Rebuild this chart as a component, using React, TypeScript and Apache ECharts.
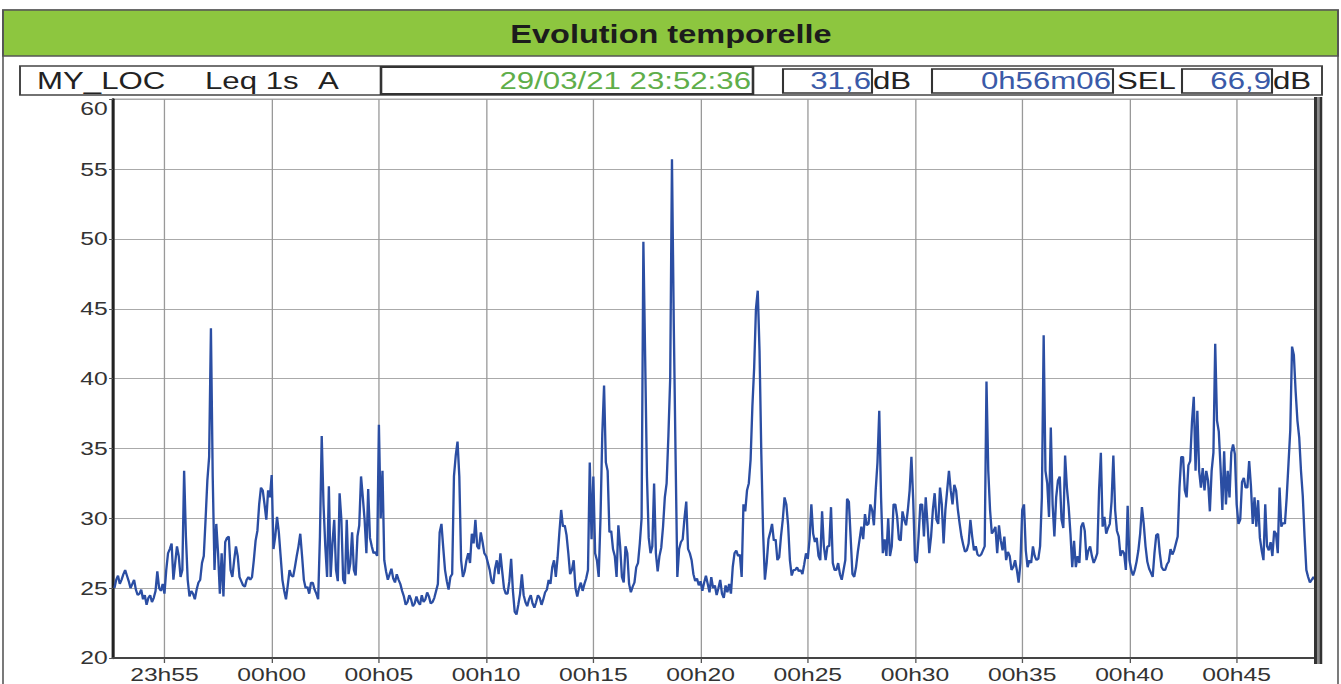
import React, { useEffect, useRef } from "react";
import * as echarts from "echarts";

// The reference is a horizontally stretched picture: draw at 1/S width, stretch with CSS.
const S = 1.3;
const W = 1341 / S;
const H = 684;
const FONT = "Liberation Sans, Arial, sans-serif";

const titleText = "Evolution temporelle";
const locText = "MY_LOC";
const metricText = "Leq 1s";
const weightText = "A";
const startText = "29/03/21 23:52:36";
const leqText = "31,6";
const durationText = "0h56m06";
const selLabel = "SEL";
const selText = "66,9";
const unitText = "dB";

// time axis in seconds relative to 00:00:00 (29/03/21 23:52:36 -> 00:48:42)
const tStart = -444;
const tEnd = 2922;
const step = 10;

// Leq 1s A values (dB). bXXXX: values every 10 s from the block start,
// mXXXX: values 5 s after each of those.
const b2352 = [25.0, 25.9, 25.6, 26.3, 25.5, 25.3, 24.9, 24.6, 24.2, 23.8, 24.5, 24.3, 26.2, 24.8];
const m2352 = [25.6, 25.3, 26.0, 25.9, 25.0, 25.6, 24.5, 24.9, 24.5, 24.3, 24.0, 24.8, 25.0, 25.3];
const b2355 = [24.6, 27.5, 28.2, 26.8, 27.3, 26.3, 28.7, 24.4, 24.6, 24.9, 25.6, 27.3, 32.7, 43.6, 26.3, 27.5, 27.5, 28.3, 28.7, 25.8, 28.0, 25.8, 25.2, 25.6, 25.6, 27.0, 29.1, 32.2, 31.0, 32.0];
const m2355 = [26.3, 27.8, 25.6, 28.0, 25.8, 33.4, 25.6, 24.8, 24.2, 25.4, 26.8, 29.9, 34.4, 33.0, 29.6, 24.6, 24.4, 28.6, 26.3, 27.0, 27.3, 25.5, 25.1, 25.8, 25.8, 28.4, 31.0, 32.0, 29.9, 31.5];
const b0000 = [33.1, 28.7, 29.0, 25.6, 24.2, 26.3, 25.8, 27.3, 28.9, 25.6, 25.1, 25.4, 24.9, 24.2, 35.9, 28.0, 32.3, 28.2, 26.3, 31.8, 25.6, 29.9, 26.8, 26.3, 28.7, 33.0, 29.9, 32.1, 28.0, 27.6];
const m0000 = [27.8, 30.1, 27.3, 24.8, 25.2, 25.9, 26.5, 28.0, 27.3, 25.0, 24.6, 25.4, 24.6, 28.7, 31.0, 25.8, 25.8, 29.9, 25.5, 29.9, 25.3, 26.0, 29.0, 25.9, 29.5, 31.5, 27.5, 28.6, 27.5, 27.3];
const b0005 = [36.7, 33.4, 26.2, 26.0, 25.7, 26.0, 25.3, 24.4, 24.0, 24.2, 23.9, 24.0, 24.5, 24.2, 24.4, 24.0, 24.8, 29.0, 27.9, 25.5, 25.8, 33.0, 35.5, 27.0, 26.2, 27.5, 28.9, 29.9, 27.8, 28.3];
const m0005 = [30.0, 27.0, 25.6, 26.4, 25.4, 25.6, 24.8, 23.8, 24.5, 23.7, 24.4, 23.8, 24.0, 24.7, 23.9, 24.3, 25.3, 29.6, 26.3, 24.9, 26.0, 34.5, 33.0, 25.8, 27.0, 26.8, 28.2, 28.0, 29.0, 27.5];
const b0010 = [27.3, 26.3, 25.3, 27.0, 27.5, 25.0, 24.6, 27.1, 23.3, 23.8, 26.0, 24.0, 24.2, 23.9, 24.0, 24.3, 24.2, 24.9, 25.3, 27.0, 27.2, 30.6, 29.5, 27.5, 26.3, 25.0, 25.0, 24.8, 25.7, 34.0];
const m0010 = [26.8, 25.5, 26.4, 26.0, 26.2, 24.6, 25.5, 24.8, 23.1, 24.6, 24.5, 23.7, 24.5, 23.6, 24.5, 23.8, 24.7, 25.6, 26.5, 25.8, 29.0, 29.4, 28.8, 26.0, 27.0, 24.4, 25.4, 25.3, 26.3, 28.5];
const b0015 = [33.0, 27.0, 30.0, 39.5, 33.4, 29.1, 27.3, 29.5, 25.8, 28.0, 25.3, 25.1, 26.5, 28.2, 49.8, 33.0, 27.5, 32.5, 26.2, 27.9, 31.5, 35.9, 55.7, 34.6, 27.8, 28.5, 31.2, 27.5, 26.0, 25.7];
const m0015 = [27.5, 25.8, 36.0, 34.0, 29.0, 27.8, 25.8, 28.0, 25.4, 27.5, 24.7, 25.4, 26.8, 30.0, 41.5, 28.6, 28.0, 27.5, 27.3, 29.4, 32.5, 40.0, 44.0, 25.8, 28.3, 30.0, 27.8, 27.0, 25.5, 25.2];
const b0020 = [25.5, 25.4, 25.3, 25.8, 25.2, 25.0, 24.6, 25.2, 25.3, 26.5, 27.7, 27.4, 31.0, 32.0, 34.2, 40.8, 46.3, 34.6, 25.6, 28.5, 29.6, 28.5, 27.2, 29.9, 31.0, 27.0, 26.3, 26.5, 26.3, 26.7];
const m0020 = [24.8, 25.9, 24.7, 25.0, 24.5, 25.6, 24.3, 24.7, 24.6, 27.5, 27.3, 25.8, 30.5, 32.5, 38.0, 45.0, 42.0, 29.0, 26.8, 29.0, 28.4, 27.0, 28.7, 31.5, 29.5, 25.9, 26.3, 26.2, 26.0, 27.5];
const b0025 = [27.1, 31.0, 28.3, 27.3, 30.5, 27.0, 28.0, 26.8, 26.3, 26.0, 26.3, 31.4, 28.6, 25.8, 27.6, 29.4, 30.3, 29.6, 30.6, 32.0, 37.7, 27.5, 27.3, 27.3, 31.0, 30.1, 28.4, 29.9, 30.6, 34.4];
const m0025 = [28.5, 28.9, 28.6, 27.0, 28.0, 28.0, 30.8, 26.3, 26.8, 25.6, 27.0, 31.2, 26.0, 26.5, 28.5, 28.5, 29.5, 31.0, 29.5, 34.0, 31.5, 28.5, 30.0, 28.0, 31.0, 28.5, 30.5, 29.5, 32.0, 31.3];
const b0030 = [27.0, 28.7, 31.0, 31.5, 27.5, 30.6, 29.9, 32.2, 28.2, 32.0, 32.0, 32.4, 30.6, 28.7, 27.6, 28.2, 28.7, 28.0, 27.3, 27.7, 39.8, 30.6, 29.1, 27.5, 28.4, 28.7, 27.6, 26.3, 27.0, 25.4];
const m0030 = [26.8, 31.0, 28.7, 29.6, 28.7, 31.8, 29.6, 31.0, 30.6, 33.4, 31.0, 32.0, 29.6, 28.1, 27.7, 29.9, 27.7, 27.4, 27.4, 28.0, 33.4, 28.9, 29.4, 29.5, 27.7, 27.0, 27.3, 26.5, 26.3, 26.8];
const b0035 = [30.6, 27.7, 27.0, 28.0, 27.0, 28.0, 43.1, 32.5, 36.5, 28.7, 32.7, 29.9, 34.5, 30.8, 26.5, 26.5, 26.8, 29.7, 27.0, 28.0, 26.8, 27.5, 34.7, 30.1, 29.3, 31.2, 30.6, 28.7, 27.7, 26.3];
const m0035 = [31.0, 26.5, 26.8, 27.3, 27.1, 31.5, 33.4, 30.1, 31.0, 31.5, 33.0, 29.3, 32.2, 28.9, 28.4, 27.3, 29.4, 29.1, 27.7, 27.3, 27.1, 32.0, 29.4, 28.9, 29.6, 34.5, 29.1, 27.3, 27.5, 30.9];
const b0040 = [27.0, 25.9, 26.9, 28.9, 29.6, 26.9, 26.1, 27.5, 28.9, 26.5, 26.3, 26.9, 27.4, 28.2, 32.2, 34.4, 31.5, 34.1, 38.7, 37.7, 32.2, 32.0, 32.7, 33.4, 42.5, 36.2, 30.6, 31.0, 31.5, 35.3];
const m0040 = [26.3, 26.3, 27.7, 30.8, 28.0, 26.4, 25.8, 28.8, 27.5, 26.3, 26.7, 27.8, 27.7, 28.7, 34.4, 32.0, 33.8, 36.9, 33.4, 33.4, 33.6, 33.4, 30.5, 34.7, 37.0, 33.6, 34.8, 33.4, 34.7, 34.6];
const b0045 = [31.0, 29.9, 32.9, 32.2, 32.3, 31.5, 31.3, 27.7, 31.0, 27.7, 27.3, 28.9, 32.2, 29.7, 31.5, 36.3, 41.7, 37.0, 33.4, 28.7, 25.8, 25.6, 25.6];
const m0045 = [29.6, 32.6, 32.2, 34.1, 29.6, 29.4, 28.6, 27.0, 28.0, 28.3, 29.1, 27.5, 29.4, 29.6, 33.9, 42.3, 39.1, 35.8, 31.6, 26.3, 25.4, 25.8];

const blockStarts = [-440, -300, 0, 300, 600, 900, 1200, 1500, 1800, 2100, 2400, 2700];
const blockValues = [b2352, b2355, b0000, b0005, b0010, b0015, b0020, b0025, b0030, b0035, b0040, b0045];
const blockMids = [m2352, m2355, m0000, m0005, m0010, m0015, m0020, m0025, m0030, m0035, m0040, m0045];

const yTicks = { min: 20, max: 60, interval: 5 };

const pad = (n: number) => String(n).padStart(2, "0");
const fmtTime = (v: number) => {
  const r = Math.round(v);
  if (r % 300 !== 0) return "";
  let m = Math.round(r / 60);
  m = ((m % 1440) + 1440) % 1440;
  return pad(Math.floor(m / 60)) + "h" + pad(m % 60);
};

// screen x (reference pixels) -> unscaled chart x
const X = (x: number) => x / S;

export default function App() {
  const ref = useRef<HTMLDivElement>(null);

  useEffect(() => {
    if (!ref.current) return;
    const chart = echarts.init(ref.current, null, { renderer: "svg", width: W, height: H });

    const data: number[][] = [];
    blockStarts.forEach((t0, i) => {
      blockValues[i].forEach((v, k) => {
        data.push([t0 + step * k, v]);
        const mid = blockMids[i][k];
        if (mid !== undefined) data.push([t0 + step * k + step / 2, mid]);
      });
    });

    const gridLeft = X(113);
    const gridRight = W - X(1316);
    const gridTop = 99.3;
    const gridBottom = H - 662.5;

    const txt = (x: number, y: number, text: string, color: string, size: number, align: string, weight = "normal") => ({
      type: "text",
      x,
      y,
      z: 20,
      style: {
        text,
        fill: color,
        font: `${weight} ${size}px ${FONT}`,
        textAlign: align,
        textVerticalAlign: "middle",
      },
    });
    const box = (x1: number, y1: number, x2: number, y2: number, stroke: string, lw: number, fill: string = "#fff", z = 10) => ({
      type: "rect",
      z,
      shape: { x: X(x1), y: y1, width: X(x2) - X(x1), height: y2 - y1 },
      style: { fill, stroke, lineWidth: lw },
    });
    const vline = (x: number, y1: number, y2: number, color: string, lw: number) => ({
      type: "line",
      z: 15,
      shape: { x1: X(x), y1, x2: X(x), y2 },
      style: { stroke: color, lineWidth: lw / S },
    });

    chart.setOption({
      animation: false,
      backgroundColor: "#ffffff",
      textStyle: { fontFamily: FONT },
      grid: {
        left: gridLeft,
        right: gridRight,
        top: gridTop,
        bottom: gridBottom,
        show: true,
        borderColor: "#555",
        borderWidth: 1,
      },
      xAxis: {
        type: "value",
        min: tStart,
        max: tEnd,
        minInterval: 300,
        maxInterval: 300,
        axisLine: { show: true, onZero: false, lineStyle: { color: "#444", width: 2 } },
        axisTick: { show: true, length: 5, lineStyle: { color: "#555" } },
        splitLine: { show: true, lineStyle: { color: "#999", width: 1 } },
        axisLabel: {
          formatter: fmtTime,
          showMinLabel: false,
          showMaxLabel: false,
          color: "#333",
          fontSize: 19,
          fontFamily: FONT,
          margin: 7,
        },
      },
      yAxis: {
        type: "value",
        min: yTicks.min,
        max: yTicks.max,
        interval: yTicks.interval,
        axisLine: { show: true, onZero: false, lineStyle: { color: "#222", width: 3 / S } },
        axisTick: { show: true, length: 3, lineStyle: { color: "#555" } },
        splitLine: { show: true, lineStyle: { color: "#aaa", width: 1 } },
        axisLabel: {
          color: "#333",
          fontSize: 19,
          fontFamily: FONT,
          margin: 4,
          verticalAlignMaxLabel: "top",
        },
      },
      series: [
        {
          type: "line",
          data,
          showSymbol: false,
          symbol: "none",
          lineStyle: { color: "#2b4ea3", width: 1.8 },
          clip: true,
        },
      ],
      graphic: [
        // outer frame (no fill, so the plot stays visible)
        box(3, 10, 1338, 700, "#555", 1.2, "none", 0),
        // green title band
        box(3, 10, 1338, 56, "#555", 1.5, "#8dc63f"),
        txt(X(671), 34, titleText, "#1c1c1c", 25, "center", "bold"),
        // info row
        box(20, 66, 1322, 95, "#444", 1.5),
        box(381, 67, 753, 94, "#333", 2),
        box(783, 69, 872, 93, "#333", 1.6),
        box(932, 69, 1113, 93, "#333", 1.6),
        box(1182, 69, 1272, 93, "#333", 1.6),
        txt(X(37), 81, locText, "#222", 24, "left"),
        txt(X(205), 81, metricText, "#222", 24, "left"),
        txt(X(318), 81, weightText, "#222", 24, "left"),
        txt(X(751), 81, startText, "#5fae4a", 24, "right"),
        txt(X(871), 81, leqText, "#3a5aa8", 24, "right"),
        txt(X(873), 81, unitText, "#222", 24, "left"),
        txt(X(1111), 81, durationText, "#3a5aa8", 24, "right"),
        txt(X(1117), 81, selLabel, "#222", 24, "left"),
        txt(X(1271), 81, selText, "#3a5aa8", 24, "right"),
        txt(X(1273), 81, unitText, "#222", 24, "left"),
        // right double border of the plot
        {
          type: "rect",
          z: 14,
          shape: { x: X(1314), y: 97, width: X(1322) - X(1314), height: 567 },
          style: { fill: "#8a8a8a" },
        },
        vline(1315.5, 97, 664, "#333", 3),
        vline(1321, 97, 664, "#333", 2.5),
      ],
    });

    return () => chart.dispose();
  }, []);

  return (
    <div
      ref={ref}
      style={{
        position: "absolute",
        left: 0,
        top: 0,
        width: W,
        height: H,
        transform: `scaleX(${S})`,
        transformOrigin: "0 0",
      }}
    />
  );
}
